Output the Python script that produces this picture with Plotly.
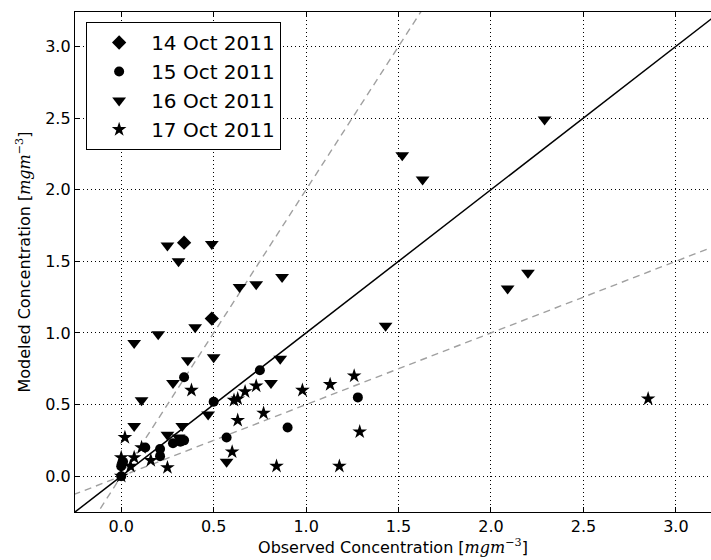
import plotly.graph_objects as go

# 14 Oct 2011 (diamonds)
oct14_x = [0.34, 0.49]
oct14_y = [1.63, 1.10]

# 15 Oct 2011 (circles)
oct15_x = [0.00, 0.00, 0.01, 0.13, 0.21, 0.21, 0.28, 0.32, 0.34, 0.34, 0.50, 0.57, 0.75, 0.90, 1.28]
oct15_y = [0.00, 0.07, 0.10, 0.20, 0.19, 0.14, 0.23, 0.24, 0.25, 0.69, 0.52, 0.27, 0.74, 0.34, 0.55]

# 16 Oct 2011 (down triangles)
oct16_x = [0.07, 0.07, 0.11, 0.20, 0.25, 0.31, 0.40, 0.49, 0.64, 0.73, 0.87, 0.36, 0.50, 0.28,
           0.81, 0.86, 0.47, 0.25, 0.33, 0.31, 0.57, 1.43, 1.52, 1.63, 2.09, 2.20, 2.29]
oct16_y = [0.93, 0.35, 0.53, 0.99, 1.61, 1.50, 1.04, 1.62, 1.32, 1.34, 1.39, 0.81, 0.83, 0.65,
           0.65, 0.82, 0.43, 0.29, 0.35, 0.27, 0.10, 1.05, 2.24, 2.07, 1.31, 1.42, 2.49]

# 17 Oct 2011 (stars)
oct17_x = [0.00, 0.00, 0.02, 0.05, 0.07, 0.11, 0.16, 0.25, 0.38, 0.60, 0.61, 0.63, 0.63, 0.67,
           0.73, 0.77, 0.84, 0.98, 1.13, 1.26, 1.29, 1.18, 2.85]
oct17_y = [0.00, 0.13, 0.27, 0.07, 0.13, 0.20, 0.11, 0.06, 0.60, 0.17, 0.53, 0.54, 0.39, 0.59,
           0.63, 0.44, 0.07, 0.60, 0.64, 0.70, 0.31, 0.07, 0.54]

# reference lines: 1:1, 2:1 and 1:2
ref_x = [-0.5, 3.5]
slope_one = 1.0
slope_two = 2.0
slope_half = 0.5

x_ticks = [0.0, 0.5, 1.0, 1.5, 2.0, 2.5, 3.0]
y_ticks = [0.0, 0.5, 1.0, 1.5, 2.0, 2.5, 3.0]

FONT = "DejaVu Sans"
UNIT = "[<span style=\"font-family:'DejaVu Serif'\"><i>mgm</i><sup>−3</sup></span>]"

fig = go.Figure()

fig.add_trace(go.Scatter(x=ref_x, y=[v * slope_one for v in ref_x], mode="lines",
                         line=dict(color="black", width=1.5), showlegend=False, hoverinfo="skip"))
fig.add_trace(go.Scatter(x=ref_x, y=[v * slope_two for v in ref_x], mode="lines",
                         line=dict(color="#a0a0a0", width=1.4, dash="7px,5px"), showlegend=False, hoverinfo="skip"))
fig.add_trace(go.Scatter(x=ref_x, y=[v * slope_half for v in ref_x], mode="lines",
                         line=dict(color="#a0a0a0", width=1.4, dash="7px,5px"), showlegend=False, hoverinfo="skip"))

series = [
    ("14 Oct 2011", oct14_x, oct14_y, "diamond", 11),
    ("15 Oct 2011", oct15_x, oct15_y, "circle", 10),
    ("16 Oct 2011", oct16_x, oct16_y, "triangle-down", 12),
    ("17 Oct 2011", oct17_x, oct17_y, "star", 11),
]
for name, xs, ys, sym, sz in series:
    fig.add_trace(go.Scatter(x=xs, y=ys, mode="markers", name=name,
                             marker=dict(symbol=sym, size=sz, color="black",
                                         line=dict(width=0))))

fig.update_layout(
    width=711, height=560,
    margin=dict(l=75, r=0, t=12, b=48),
    paper_bgcolor="white", plot_bgcolor="white",
    font=dict(family=FONT, size=16, color="black"),
    legend=dict(x=0.0175, y=0.98, xanchor="left", yanchor="top",
                bordercolor="black", borderwidth=1, bgcolor="white",
                font=dict(size=20, family=FONT), itemwidth=54,
                tracegroupgap=0),
    xaxis=dict(range=[-0.25, 3.19], tickvals=x_ticks, ticktext=[f"{v:.1f}" for v in x_ticks],
               showline=True, linecolor="black", linewidth=1.3, mirror="ticks",
               ticks="inside", ticklen=5, tickcolor="black",
               showgrid=True, gridcolor="black", griddash="1px,3px", gridwidth=1,
               zeroline=False, tickfont=dict(size=16),
               title=dict(text="Observed Concentration " + UNIT,
                          font=dict(size=16), standoff=4)),
    yaxis=dict(range=[-0.25, 3.24], tickvals=y_ticks, ticktext=[f"{v:.1f}" for v in y_ticks],
               showline=True, linecolor="black", linewidth=1.3, mirror=False,
               ticks="inside", ticklen=5, tickcolor="black",
               showgrid=True, gridcolor="black", griddash="1px,3px", gridwidth=1,
               zeroline=False, tickfont=dict(size=16),
               title=dict(text="Modeled Concentration " + UNIT,
                          font=dict(size=16), standoff=10)),
)

fig.write_html("out.html")
